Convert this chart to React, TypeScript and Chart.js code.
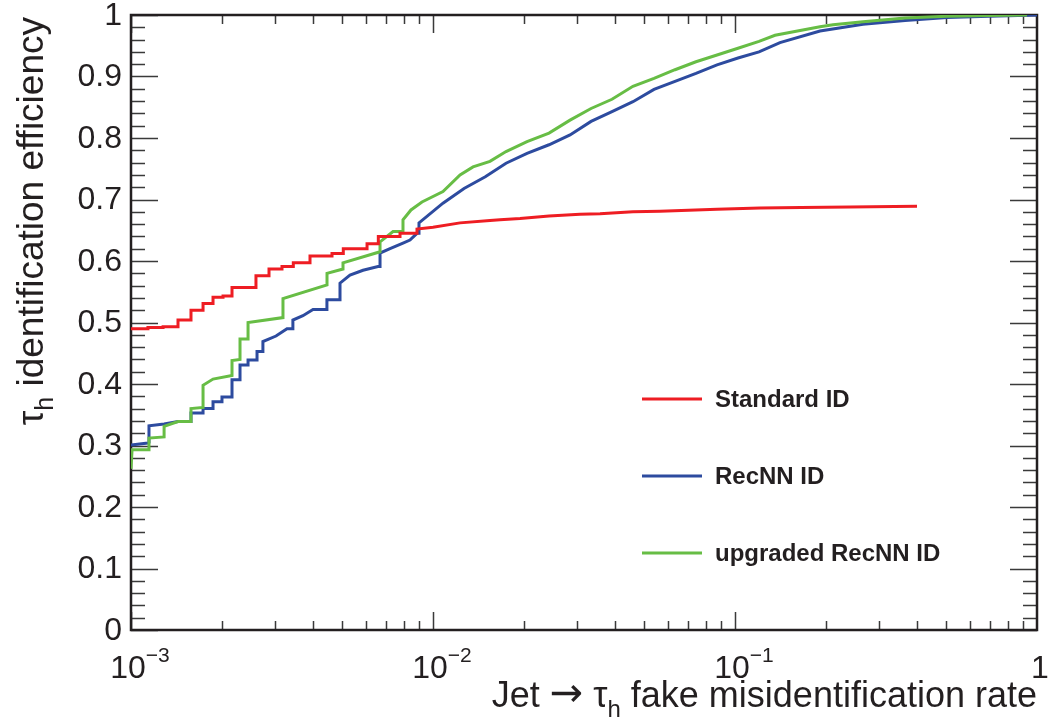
import React, { useEffect, useRef } from "react";
import { Chart, registerables } from "chart.js";

Chart.register(...registerables);

// ---------------- data ----------------
const seriesLabels = ["Standard ID", "RecNN ID", "upgraded RecNN ID"];
const seriesColors = ["#ee1d23", "#2d4b9f", "#67bd45"];

// Standard ID (polyline vertices: fake rate, efficiency)
const standardX = [
  0.001, 0.001138, 0.001138, 0.001277, 0.001277, 0.001431, 0.001431, 0.00158, 0.00158, 0.001732,
  0.001732, 0.001869, 0.001869, 0.002017, 0.002017, 0.00216, 0.00216, 0.002593, 0.002593, 0.002864,
  0.002864, 0.003162, 0.003162, 0.003447, 0.003447, 0.003915, 0.003915, 0.00463, 0.00463, 0.005046,
  0.005046, 0.006048, 0.006048, 0.006591, 0.006591, 0.007776, 0.007776, 0.008851, 0.008851, 0.01,
  0.01229, 0.01544, 0.01667, 0.01942, 0.02422, 0.03068, 0.03573, 0.04593, 0.05645, 0.0872,
  0.121, 0.1654, 0.2404, 0.4006,
];
const standardY = [
  0.49, 0.49, 0.492, 0.492, 0.493, 0.493, 0.504, 0.504, 0.52, 0.52,
  0.531, 0.531, 0.541, 0.541, 0.543, 0.543, 0.557, 0.557, 0.576, 0.576,
  0.587, 0.587, 0.591, 0.591, 0.597, 0.597, 0.608, 0.608, 0.612, 0.612,
  0.62, 0.62, 0.628, 0.628, 0.64, 0.64, 0.645, 0.645, 0.652, 0.655,
  0.662, 0.666, 0.667, 0.669, 0.673, 0.676, 0.677, 0.68, 0.681, 0.684,
  0.686, 0.687, 0.688, 0.689,
];

// RecNN ID
const recnnX = [
  0.001, 0.001138, 0.001147, 0.001147, 0.001287, 0.001431, 0.00158, 0.00158, 0.001732, 0.001732,
  0.001869, 0.001869, 0.002001, 0.002001, 0.00216, 0.00216, 0.002296, 0.002296, 0.002441, 0.002441,
  0.002614, 0.002614, 0.002734, 0.002734, 0.003021, 0.003285, 0.003436, 0.003436, 0.003709, 0.004006,
  0.004454, 0.004454, 0.004921, 0.004921, 0.005311, 0.005866, 0.006575, 0.006677, 0.006677, 0.007206,
  0.007955, 0.00839, 0.008851, 0.008987, 0.008987, 0.01079, 0.01267, 0.0149, 0.01745, 0.02048,
  0.02422, 0.02843, 0.03337, 0.03915, 0.04593, 0.05393, 0.06329, 0.07427, 0.0872, 0.1023,
  0.1201, 0.1409, 0.1912, 0.2654, 0.3655, 0.5035, 0.6936, 1.0,
];
const recnnY = [
  0.301, 0.304, 0.305, 0.332, 0.335, 0.339, 0.339, 0.353, 0.353, 0.36,
  0.36, 0.371, 0.371, 0.379, 0.379, 0.407, 0.407, 0.431, 0.431, 0.439,
  0.439, 0.453, 0.453, 0.469, 0.478, 0.49, 0.49, 0.504, 0.511, 0.521,
  0.521, 0.537, 0.537, 0.564, 0.577, 0.585, 0.591, 0.591, 0.613, 0.62,
  0.629, 0.634, 0.645, 0.645, 0.662, 0.694, 0.718, 0.737, 0.759, 0.775,
  0.789, 0.805, 0.827, 0.843, 0.859, 0.879, 0.892, 0.905, 0.919, 0.93,
  0.94, 0.955, 0.974, 0.985, 0.991, 0.996, 0.998, 1.0,
];

// upgraded RecNN ID
const upgradedX = [
  0.001, 0.001008, 0.001147, 0.001147, 0.001287, 0.001287, 0.001431, 0.00158, 0.00158, 0.001732,
  0.001732, 0.001869, 0.00216, 0.00216, 0.002296, 0.002296, 0.002441, 0.002441, 0.003186, 0.003186,
  0.004457, 0.004457, 0.005035, 0.005035, 0.006677, 0.006677, 0.007373, 0.007955, 0.007955, 0.008455,
  0.009195, 0.01079, 0.01229, 0.01357, 0.01544, 0.01745, 0.02048, 0.02422, 0.02843, 0.03337,
  0.03915, 0.04593, 0.05393, 0.06329, 0.07427, 0.0872, 0.1023, 0.1201, 0.1357, 0.1912,
  0.2111, 0.2654, 0.3655, 0.5035, 0.6936, 0.927,
];
const upgradedY = [
  0.262, 0.293, 0.293, 0.312, 0.314, 0.331, 0.339, 0.339, 0.36, 0.362,
  0.398, 0.408, 0.414, 0.438, 0.44, 0.473, 0.473, 0.5, 0.508, 0.539,
  0.561, 0.58, 0.587, 0.597, 0.615, 0.631, 0.648, 0.648, 0.667, 0.683,
  0.696, 0.713, 0.74, 0.753, 0.762, 0.778, 0.794, 0.808, 0.829, 0.848,
  0.863, 0.884, 0.897, 0.911, 0.924, 0.935, 0.946, 0.957, 0.967, 0.981,
  0.984, 0.989, 0.995, 0.998, 0.999, 1.0,
];

// axes
const xMin = 0.001;
const xMax = 1;
const yMin = 0;
const yMax = 1;
const yTickValues = [0, 0.1, 0.2, 0.3, 0.4, 0.5, 0.6, 0.7, 0.8, 0.9, 1];
const yTickLabels = ["0", "0.1", "0.2", "0.3", "0.4", "0.5", "0.6", "0.7", "0.8", "0.9", "1"];
const xTickValues = [0.001, 0.01, 0.1, 1];
const xTickBases = ["10", "10", "10", "1"];
const xTickExponents = ["\u22123", "\u22122", "\u22121", ""];
const xTitleParts = ["Jet ", "\u2192", " \u03c4", "h", " fake misidentification rate"];
const yTitleParts = ["\u03c4", "h", " identification efficiency"];

// ---------------- drawing helpers ----------------
const FONT = '"Liberation Sans", Arial, Helvetica, sans-serif';
const ARROW_FONT = '"DejaVu Sans", "Liberation Sans", sans-serif';
const INK = "#231f20";

type Part = { t: string; size: number; dy: number; bold?: boolean; family?: string };

function drawParts(ctx: CanvasRenderingContext2D, parts: Part[], x: number, y: number, align: "left" | "right" | "center") {
  const fontOf = (p: Part) => `${p.bold ? "bold " : ""}${p.size}px ${p.family || FONT}`;
  const widths = parts.map((p) => {
    ctx.font = fontOf(p);
    return ctx.measureText(p.t).width;
  });
  const total = widths.reduce((a, b) => a + b, 0);
  let cx = align === "right" ? x - total : align === "center" ? x - total / 2 : x;
  ctx.textAlign = "left";
  ctx.textBaseline = "alphabetic";
  parts.forEach((p, i) => {
    ctx.font = fontOf(p);
    ctx.fillText(p.t, cx, y + p.dy);
    cx += widths[i];
  });
}

const rootFramePlugin = {
  id: "rootFrame",
  beforeDatasetsDraw(chart: any) {
    const ctx: CanvasRenderingContext2D = chart.ctx;
    const { left, right, top, bottom } = chart.chartArea;
    const xs = chart.scales.x;
    const ys = chart.scales.y;
    ctx.save();
    // ticks
    ctx.strokeStyle = "#3a3a3a";
    ctx.lineWidth = 1.5;
    ctx.beginPath();
    for (let i = 0; i <= 50; i++) {
      const v = i / 50;
      const py = Math.round(ys.getPixelForValue(v)) + 0.5;
      const len = i % 5 === 0 ? 27 : 14;
      ctx.moveTo(left, py);
      ctx.lineTo(left + len, py);
      ctx.moveTo(right, py);
      ctx.lineTo(right - len, py);
    }
    for (let e = -3; e < 0; e++) {
      for (let m = 1; m <= 9; m++) {
        const v = m * Math.pow(10, e);
        const px = Math.round(xs.getPixelForValue(v)) + 0.5;
        const len = m === 1 ? 18 : 9;
        ctx.moveTo(px, bottom);
        ctx.lineTo(px, bottom - len);
        ctx.moveTo(px, top);
        ctx.lineTo(px, top + len);
      }
    }
    ctx.stroke();
    // frame
    ctx.strokeStyle = INK;
    ctx.lineWidth = 2.5;
    ctx.strokeRect(left, top, right - left, bottom - top);
    ctx.restore();
  },
  afterDatasetsDraw(chart: any) {
    const ctx: CanvasRenderingContext2D = chart.ctx;
    const { left, right, top, bottom } = chart.chartArea;
    const xs = chart.scales.x;
    const ys = chart.scales.y;
    ctx.save();
    ctx.fillStyle = INK;
    // y tick labels
    ctx.font = `32px ${FONT}`;
    ctx.textAlign = "right";
    ctx.textBaseline = "middle";
    yTickValues.forEach((v, i) => {
      ctx.fillText(yTickLabels[i], left - 9, ys.getPixelForValue(v) + 1);
    });
    // x tick labels
    xTickValues.forEach((v, i) => {
      const px = xs.getPixelForValue(v);
      const parts: Part[] = [{ t: xTickBases[i], size: 32, dy: 0 }];
      if (xTickExponents[i]) parts.push({ t: xTickExponents[i], size: 21, dy: -16 });
      drawParts(ctx, parts, px + (xTickExponents[i] ? 9 : 3), bottom + 48, "center");
    });
    // x title
    drawParts(
      ctx,
      [
        { t: xTitleParts[0], size: 36, dy: 0 },
        { t: xTitleParts[1], size: 40, dy: -1, family: ARROW_FONT },
        { t: xTitleParts[2], size: 36, dy: 0 },
        { t: xTitleParts[3], size: 24, dy: 10 },
        { t: xTitleParts[4], size: 36, dy: 0 },
      ],
      right,
      bottom + 77,
      "right"
    );
    // y title (rotated)
    ctx.save();
    ctx.translate(left - 88, top + 2);
    ctx.rotate(-Math.PI / 2);
    drawParts(
      ctx,
      [
        { t: yTitleParts[0], size: 37, dy: 0 },
        { t: yTitleParts[1], size: 25, dy: 10 },
        { t: yTitleParts[2], size: 37, dy: 0 },
      ],
      0,
      0,
      "right"
    );
    ctx.restore();
    // legend
    const legX0 = left + 511;
    const legX1 = left + 571;
    const legTextX = left + 584;
    const legY = [top + 384, top + 461, top + 538];
    seriesLabels.forEach((lab, i) => {
      ctx.strokeStyle = seriesColors[i];
      ctx.lineWidth = 3;
      ctx.beginPath();
      ctx.moveTo(legX0, legY[i]);
      ctx.lineTo(legX1, legY[i]);
      ctx.stroke();
      ctx.fillStyle = INK;
      ctx.font = `bold 24px ${FONT}`;
      ctx.textAlign = "left";
      ctx.textBaseline = "middle";
      ctx.fillText(lab, legTextX, legY[i] + 1);
    });
    ctx.restore();
  },
};

function toPoints(xs: number[], ys: number[]) {
  return xs.map((x, i) => ({ x, y: ys[i] }));
}

export default function App() {
  const canvasRef = useRef<HTMLCanvasElement | null>(null);

  useEffect(() => {
    const canvas = canvasRef.current;
    if (!canvas) return;
    const seriesX = [standardX, recnnX, upgradedX];
    const seriesY = [standardY, recnnY, upgradedY];
    const drawOrder = [0, 2, 1];
    const chart = new Chart(canvas, {
      type: "scatter",
      data: {
        datasets: seriesLabels.map((label, i) => ({
          label,
          data: toPoints(seriesX[i], seriesY[i]),
          showLine: true,
          borderColor: seriesColors[i],
          backgroundColor: seriesColors[i],
          borderWidth: 3,
          pointRadius: 0,
          pointHoverRadius: 0,
          tension: 0,
          borderJoinStyle: "miter" as const,
          borderCapStyle: "butt" as const,
          order: drawOrder[i],
        })),
      },
      options: {
        animation: false,
        responsive: false,
        devicePixelRatio: 1,
        layout: { padding: { left: 131, top: 15, right: 11, bottom: 95 } },
        scales: {
          x: { type: "logarithmic", min: xMin, max: xMax, display: false },
          y: { type: "linear", min: yMin, max: yMax, display: false },
        },
        plugins: {
          legend: { display: false },
          tooltip: { enabled: false },
        },
        events: [],
      },
      plugins: [rootFramePlugin],
    });
    return () => chart.destroy();
  }, []);

  return (
    <div style={{ position: "absolute", left: 0, top: 0, width: 1048, height: 725, background: "#ffffff" }}>
      <canvas ref={canvasRef} width={1048} height={725} style={{ display: "block" }} />
    </div>
  );
}
